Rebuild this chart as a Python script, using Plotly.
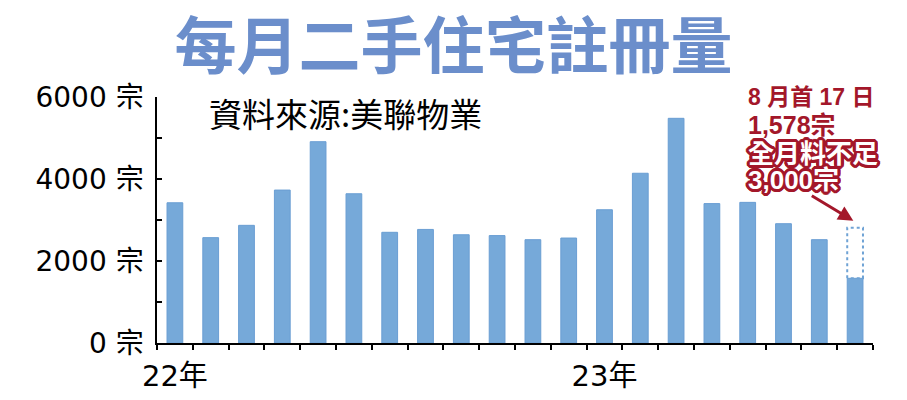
import plotly.graph_objects as go

# ---- data ----
months = ["2022-01", "2022-02", "2022-03", "2022-04", "2022-05", "2022-06",
          "2022-07", "2022-08", "2022-09", "2022-10", "2022-11", "2022-12",
          "2023-01", "2023-02", "2023-03", "2023-04", "2023-05", "2023-06",
          "2023-07", "2023-08"]
registrations = [3420, 2570, 2870, 3730, 4910, 3640, 2700, 2770, 2640, 2620,
                 2520, 2560, 3250, 4140, 5480, 3400, 3430, 2910, 2520, 1578]
august_projection = 2810           # dotted outline: whole-month estimate
year_tick_index = [0, 12]
year_tick_labels = ["22年", "23年"]
y_tick_values = [0, 1000, 2000, 3000, 4000, 5000, 6000]
y_tick_labels = ["0 宗", "", "2000 宗", "", "4000 宗", "", "6000 宗"]

title_text = "每月二手住宅註冊量"
source_text = "資料來源:美聯物業"
note_lines_red = ["8 月首 17 日", "1,578宗"]
note_lines_white = ["全月料不足", "3,000宗"]

# ---- styles ----
BAR = "#76A9D9"
BAR_EDGE = "#6A9ED3"
RED = "#A3172A"
TITLE_BLUE = "#6B8ECB"
BAR_W = 0.44
CJK = "Noto Sans CJK TC"
NUM = "DejaVu Sans, Noto Sans CJK TC"
NOTE = "Liberation Sans, Noto Sans CJK TC"

x_idx = list(range(len(months)))
last = x_idx[-1]

fig = go.Figure()
fig.add_trace(go.Bar(
    x=x_idx, y=registrations, width=BAR_W,
    marker=dict(color=BAR, line=dict(color=BAR_EDGE, width=1)),
    hovertext=months, showlegend=False))

# dotted outline for projected August total
bx0, bx1 = last - BAR_W / 2, last + BAR_W / 2
fig.add_trace(go.Scatter(
    x=[bx0, bx0, bx1, bx1, bx0],
    y=[registrations[-1], august_projection, august_projection,
       registrations[-1], registrations[-1]],
    mode="lines", line=dict(color="#6FA3D5", width=2, dash="dot"),
    hoverinfo="skip", showlegend=False))

L, R, T, B = 157, 34, 97, 57
W, H = 907, 400
pw, ph = W - L - R, H - T - B


def px(xp):
    return (xp - L) / pw


def py(yp):
    return (H - B - yp) / ph


annotations = [
    dict(text=source_text, x=px(207), y=py(113), xanchor="left", yanchor="middle",
         font=dict(family=CJK, size=33, color="black")),
    dict(text=note_lines_red[0], x=px(746), y=py(97), xanchor="left", yanchor="middle",
         font=dict(family=NOTE, size=23, color=RED, weight="bold")),
    dict(text=note_lines_red[1], x=px(746), y=py(125), xanchor="left", yanchor="middle",
         font=dict(family=NOTE, size=25, color=RED, weight="bold")),
]
outline = ", ".join(f"{RED} {dx}px {dy}px 0" for dx, dy in
                    [(3, 0), (-3, 0), (0, 3), (0, -3), (2, 2), (-2, 2), (2, -2), (-2, -2),
                     (3, 1), (-3, 1), (3, -1), (-3, -1), (1, 3), (-1, 3), (1, -3), (-1, -3)])
annotations += [
    dict(text=note_lines_white[0], x=px(746), y=py(154), xanchor="left", yanchor="middle",
         font=dict(family=NOTE, size=26, color="white", weight="bold", shadow=outline)),
    dict(text=note_lines_white[1], x=px(746), y=py(180), xanchor="left", yanchor="middle",
         font=dict(family=NOTE, size=26, color="white", weight="bold", shadow=outline)),
    dict(text="", x=last - 0.05, y=august_projection, xref="x", yref="y",
         yshift=7, showarrow=True, arrowhead=2, arrowsize=1.0, arrowwidth=3,
         arrowcolor=RED, ax=-43, ay=-26, standoff=0),
]
for a in annotations:
    a.setdefault("xref", "paper")
    a.setdefault("yref", "paper")
    a.setdefault("showarrow", False)

fig.update_layout(
    width=W, height=H,
    margin=dict(l=L, r=R, t=T, b=B, autoexpand=False),
    paper_bgcolor="white", plot_bgcolor="white",
    title=dict(text=title_text, x=0.5, xref="container", xanchor="center",
               y=1 - 47 / H, yref="container", yanchor="middle",
               font=dict(family=CJK, size=62, color=TITLE_BLUE, weight="bold")),
    xaxis=dict(range=[-0.5, len(months) - 0.5], showgrid=False, zeroline=False,
               automargin=False,
               showline=True, linecolor="black", linewidth=1.5,
               tickmode="array", tickvals=year_tick_index, ticktext=year_tick_labels,
               ticks="", ticklabelstandoff=6,
               tickfont=dict(family=NUM, size=29, color="black"),
               minor=dict(ticks="outside", tick0=-0.5, dtick=1, ticklen=5,
                          tickwidth=1.5, tickcolor="black")),
    yaxis=dict(range=[0, 6000], showgrid=False, zeroline=False,
               automargin=False,
               showline=True, linecolor="black", linewidth=1.5,
               tickmode="array", tickvals=y_tick_values, ticktext=y_tick_labels,
               ticks="inside", ticklen=5, tickwidth=1.5, tickcolor="black",
               ticklabelstandoff=6,
               tickfont=dict(family=NUM, size=28, color="black")),
    annotations=annotations,
    bargap=0.56,
)

fig.write_html("out.html", config={"displayModeBar": False},
               post_script="document.body.style.margin='0';document.body.style.overflow='hidden';")
